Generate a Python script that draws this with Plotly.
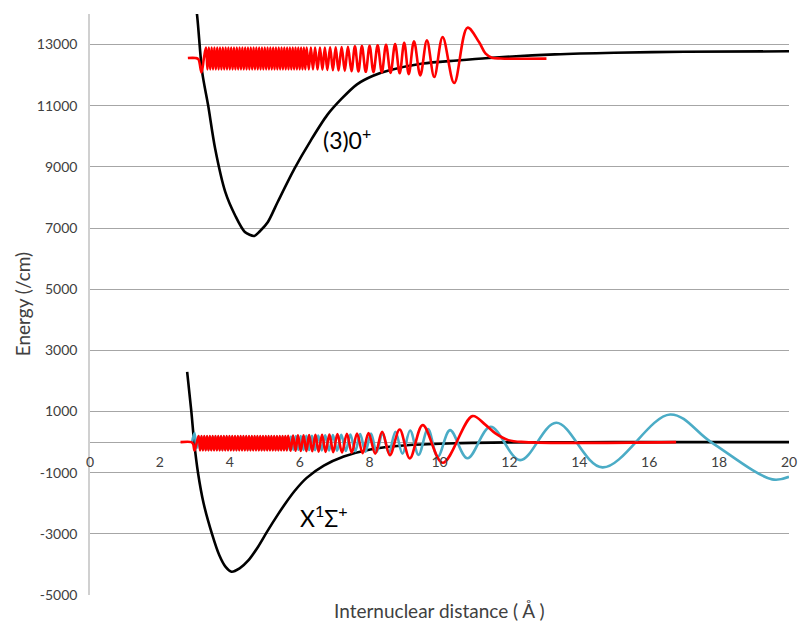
import plotly.graph_objects as go

# ---------------- data ----------------
# Potential curve of the (3)0+ state
UP_POT_X = [3.00, 3.06, 3.21, 3.38, 3.58, 3.87, 4.15, 4.43, 4.70, 4.86, 5.09, 5.37, 5.85,
            6.32, 6.79, 7.20, 7.64, 8.10, 8.57, 9.52, 10.50, 11.40, 13.30, 15.00, 17.00, 20.00]
UP_POT_Y = [14400, 14000, 12100, 11013, 9598, 8180, 7418, 6873, 6742, 6895, 7200, 7853, 8944,
            9869, 10700, 11230, 11700, 11980, 12160, 12380, 12480, 12560, 12680, 12735, 12765, 12780]

# Potential curve of the X1Sigma+ state
LO_POT_X = [2.78, 2.90, 2.98, 3.09, 3.25, 3.49, 3.70, 3.88, 4.05, 4.28, 4.53, 4.81, 5.05, 5.37,
            5.60, 5.86, 6.20, 6.69, 7.26, 8.02, 9.15, 10.47, 12.00, 14.00, 16.00, 18.00, 20.00]
LO_POT_Y = [2297, 1000, 0, -1000, -2000, -3000, -3700, -4080, -4238, -4130, -3870, -3420, -2960, -2380,
            -1990, -1590, -1170, -770, -470, -240, -95, -35, -10, -3, 0, 0, 0]

# Red vibrational wavefunction on the (3)0+ state (extrema and baseline points)
UP_WAVE_X = [2.80, 3.02, 3.10, 3.19, 3.26,
             3.32, 3.36, 3.40, 3.44, 3.48, 3.52, 3.56, 3.60, 3.64, 3.68,
             3.72, 3.76, 3.80, 3.84, 3.88, 3.92, 3.96, 4.00, 4.04, 4.08,
             4.12, 4.16, 4.20, 4.24, 4.28, 4.32, 4.36, 4.40, 4.44, 4.48,
             4.52, 4.56, 4.60, 4.64, 4.68, 4.72, 4.76, 4.80, 4.84, 4.88,
             4.92, 4.96, 5.00, 5.04, 5.08, 5.12, 5.16, 5.20, 5.24, 5.28,
             5.32, 5.36, 5.40, 5.44, 5.48, 5.52, 5.56, 5.60, 5.64, 5.68,
             5.72, 5.76, 5.80, 5.84, 5.88, 5.92, 5.96, 6.00, 6.04, 6.08,
             6.12, 6.16, 6.20,
             6.26, 6.32, 6.38, 6.44, 6.51, 6.58, 6.65, 6.72, 6.79, 6.87, 6.95, 7.03, 7.11, 7.20,
             7.29, 7.38, 7.48, 7.58, 7.68, 7.78, 7.89, 8.00, 8.11, 8.23, 8.35, 8.47, 8.60, 8.73,
             8.86, 8.99, 9.12, 9.27, 9.45, 9.64, 9.85, 10.09, 10.42, 10.80,
             11.13, 11.32, 11.50, 11.75, 13.06]
UP_WAVE_Y = [12560, 12560, 12520, 12090, 12560,
             12900, 12190, 12900, 12190, 12900, 12190, 12900, 12190, 12900, 12190,
             12900, 12190, 12900, 12190, 12900, 12190, 12900, 12190, 12900, 12190,
             12900, 12190, 12900, 12190, 12900, 12190, 12900, 12190, 12900, 12190,
             12900, 12190, 12900, 12190, 12900, 12190, 12900, 12190, 12900, 12190,
             12900, 12190, 12900, 12190, 12900, 12190, 12900, 12190, 12900, 12190,
             12900, 12190, 12900, 12190, 12900, 12190, 12900, 12190, 12900, 12190,
             12900, 12190, 12900, 12190, 12900, 12190, 12900, 12190, 12900, 12190,
             12900, 12190, 12900,
             12190, 12900, 12190, 12900, 12185, 12900, 12180, 12905, 12170, 12910, 12160, 12915, 12150, 12920,
             12140, 12930, 12130, 12940, 12120, 12950, 12110, 12960, 12100, 12975, 12090, 12995, 12075, 13020,
             12060, 13060, 12030, 13110, 11993, 13137, 11938, 13245, 11742, 13552,
             13082, 12703, 12572, 12545, 12540]

# Red vibrational wavefunction on the X state
LO_WAVE_X = [2.59, 2.90, 2.95, 2.99, 3.05,
             3.11, 3.15, 3.19, 3.23, 3.27, 3.31, 3.35, 3.39, 3.43, 3.47,
             3.51, 3.55, 3.59, 3.63, 3.67, 3.71, 3.75, 3.79, 3.83, 3.87,
             3.91, 3.95, 3.99, 4.03, 4.07, 4.11, 4.15, 4.19, 4.23, 4.27,
             4.31, 4.35, 4.39, 4.43, 4.47, 4.51, 4.55, 4.59, 4.63, 4.67,
             4.71, 4.75, 4.79, 4.83, 4.87, 4.91, 4.95, 4.99, 5.03, 5.07,
             5.11, 5.15, 5.19, 5.23, 5.27, 5.31, 5.35, 5.39, 5.43, 5.47,
             5.51, 5.55, 5.59, 5.63, 5.67,
             5.74, 5.81, 5.88, 5.95, 6.03, 6.11, 6.19, 6.27, 6.36, 6.45, 6.54, 6.64, 6.74, 6.85,
             6.96, 7.08, 7.21, 7.35, 7.49, 7.64, 7.80, 7.97, 8.16, 8.36, 8.58, 8.86, 9.15, 9.52,
             10.09, 10.94,
             11.30, 11.60, 11.97, 12.45, 16.77]
LO_WAVE_Y = [0, 0, -60, -270, -30,
             200, -270, 200, -270, 200, -270, 200, -270, 200, -270,
             200, -270, 200, -270, 200, -270, 200, -270, 200, -270,
             200, -270, 200, -270, 200, -270, 200, -270, 200, -270,
             200, -270, 200, -270, 200, -270, 200, -270, 200, -270,
             200, -270, 200, -270, 200, -270, 200, -270, 200, -270,
             200, -270, 200, -270, 200, -270, 200, -270, 200, -270,
             200, -270, 200, -270, 205,
             -280, 215, -285, 220, -290, 225, -295, 230, -300, 235, -310, 240, -320, 250,
             -330, 260, -340, 270, -350, 280, -360, 300, -380, 338, -425, 414, -534, 556,
             -676, 850,
             580, 284, 65, 0, 0]

# Blue (teal) wavefunction on the X state
BLUE_X = [2.92, 2.99, 3.05,
          3.11, 3.15, 3.19, 3.23, 3.27, 3.31, 3.35, 3.39, 3.43, 3.47,
          3.51, 3.55, 3.59, 3.63, 3.67, 3.71, 3.75, 3.79, 3.83, 3.87,
          3.91, 3.95, 3.99, 4.03, 4.07, 4.11, 4.15, 4.19, 4.23, 4.27,
          4.31, 4.35, 4.39, 4.43, 4.47, 4.51, 4.55, 4.59, 4.63, 4.67,
          4.71, 4.75, 4.79, 4.83, 4.87, 4.91, 4.95, 4.99, 5.03, 5.07,
          5.11, 5.15, 5.19, 5.23, 5.27, 5.31, 5.35, 5.39, 5.43, 5.47,
          5.51, 5.55, 5.59, 5.63, 5.67, 5.71, 5.75,
          5.82, 5.89, 5.96, 6.03, 6.11, 6.19, 6.27, 6.35, 6.44, 6.53, 6.63, 6.73, 6.84, 6.95,
          7.07, 7.19, 7.32, 7.45, 7.59, 7.73, 7.88, 8.04, 8.20, 8.37, 8.55, 8.74, 8.94, 9.16,
          9.40, 9.67, 9.95, 10.30, 10.80, 11.46, 12.31, 13.34, 14.66, 16.60, 17.77, 19.52, 20.00]
BLUE_Y = [0, 300, -200,
          180, -250, 180, -250, 180, -250, 180, -250, 180, -250,
          180, -250, 180, -250, 180, -250, 180, -250, 180, -250,
          180, -250, 180, -250, 180, -250, 180, -250, 180, -250,
          180, -250, 180, -250, 180, -250, 180, -250, 180, -250,
          180, -250, 180, -250, 180, -250, 180, -250, 180, -250,
          180, -250, 180, -250, 180, -250, 180, -250, 180, -250,
          180, -250, 180, -250, 180, -250, 185,
          -250, 195, -250, 200, -255, 205, -260, 210, -265, 215, -270, 220, -275, 230,
          -280, 240, -290, 250, -300, 260, -310, 280, -330, 300, -350, 340, -380, 380,
          -420, 430, -480, 392, -530, 500, -588, 631, -827, 904, 0, -1219, -1134]

X_TICKS = [0, 2, 4, 6, 8, 10, 12, 14, 16, 18, 20]
Y_TICKS = [-5000, -3000, -1000, 1000, 3000, 5000, 7000, 9000, 11000, 13000]
Y_TICK_TEXT = ["-5000", "-3000", "-1000", "1000", "3000", "5000", "7000", "9000", "11000", "13000"]

STATE_LABELS = ["(3)0<sup>+</sup>", "X<sup>1</sup>Σ<sup>+</sup>"]
STATE_LABEL_X = [7.35, 6.7]
STATE_LABEL_Y = [9935, -2418]

# ---------------- figure ----------------
FONT = "Lato, 'Open Sans', sans-serif"
fig = go.Figure()


def line_trace(xs, ys, color, smoothing):
    return go.Scatter(x=xs, y=ys, mode="lines", hoverinfo="skip",
                      line=dict(color=color, width=2.6, shape="spline",
                                smoothing=smoothing, simplify=False))


fig.add_trace(line_trace(UP_POT_X, UP_POT_Y, "#000000", 0.8))
fig.add_trace(line_trace(LO_POT_X, LO_POT_Y, "#000000", 0.8))
fig.add_trace(line_trace(BLUE_X, BLUE_Y, "#4BACC6", 1.0))
fig.add_trace(line_trace(LO_WAVE_X, LO_WAVE_Y, "#FF0000", 1.0))
fig.add_trace(line_trace(UP_WAVE_X, UP_WAVE_Y, "#FF0000", 1.0))

for t, lx, ly in zip(STATE_LABELS, STATE_LABEL_X, STATE_LABEL_Y):
    fig.add_annotation(x=lx, y=ly, text=t, showarrow=False, xanchor="center", yanchor="middle",
                       font=dict(family=FONT, size=23, color="#000000"))

fig.add_annotation(xref="paper", yref="paper", x=0.4993, y=-0.026, text="Internuclear distance ( Å )",
                   showarrow=False, xanchor="center", yanchor="middle",
                   font=dict(family=FONT, size=19, color="#404040"))
fig.add_annotation(xref="paper", yref="paper", x=-0.0962, y=0.50, text="Energy (/cm)", textangle=-90,
                   showarrow=False, xanchor="center", yanchor="middle",
                   font=dict(family=FONT, size=19, color="#404040"))

fig.update_layout(
    width=803, height=622,
    margin=dict(l=90, r=6, t=14, b=27),
    paper_bgcolor="white", plot_bgcolor="white",
    showlegend=False,
    font=dict(family=FONT, size=14, color="#404040"),
    xaxis=dict(range=[0, 20], tickvals=X_TICKS, showgrid=False, zeroline=False,
               anchor="free", position=(595 - 442) / 581, showline=False,
               ticks="", ticklabelstandoff=10, ticklabeloverflow="allow",
               tickfont=dict(family=FONT, size=14, color="#404040")),
    yaxis=dict(range=[-5000, 14000], tickvals=Y_TICKS, ticktext=Y_TICK_TEXT,
               showgrid=True, gridcolor="#a6a6a6", gridwidth=1,
               zeroline=True, zerolinecolor="#a6a6a6", zerolinewidth=1,
               showline=True, linecolor="#d0d0d0", linewidth=1.5,
               ticks="", ticklabelstandoff=8,
               tickfont=dict(family=FONT, size=14, color="#404040")),
)

fig.write_html("out.html", config={"displayModeBar": False})
